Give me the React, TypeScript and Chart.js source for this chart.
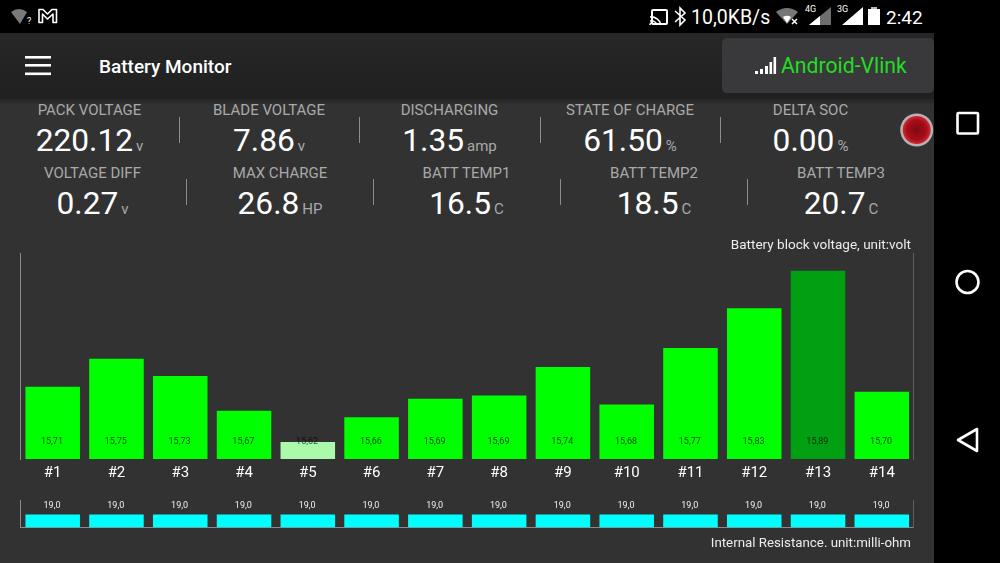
import React, { useEffect, useRef } from 'react';
import { Chart, registerables } from 'chart.js';

Chart.register(...registerables);
Chart.defaults.font.family = 'Roboto';

const categories = ['#1', '#2', '#3', '#4', '#5', '#6', '#7', '#8', '#9', '#10', '#11', '#12', '#13', '#14'];
// bar heights, the printed labels are rounded differently
const voltageValues = [15.707, 15.751, 15.724, 15.669, 15.62, 15.659, 15.688, 15.693, 15.738, 15.679, 15.768, 15.831, 15.89, 15.699];
const voltageLabels = ['15,71', '15,75', '15,73', '15,67', '15,62', '15,66', '15,69', '15,69', '15,74', '15,68', '15,77', '15,83', '15,89', '15,70'];
const resistanceValues = [19.0, 19.0, 19.0, 19.0, 19.0, 19.0, 19.0, 19.0, 19.0, 19.0, 19.0, 19.0, 19.0, 19.0];
const resistanceLabels = ['19,0', '19,0', '19,0', '19,0', '19,0', '19,0', '19,0', '19,0', '19,0', '19,0', '19,0', '19,0', '19,0', '19,0'];

const topRow = [
  { label: 'PACK VOLTAGE', value: '220.12', unit: 'v', x: 89.5 },
  { label: 'BLADE VOLTAGE', value: '7.86', unit: 'v', x: 269 },
  { label: 'DISCHARGING', value: '1.35', unit: 'amp', x: 449.5 },
  { label: 'STATE OF CHARGE', value: '61.50', unit: '%', x: 630 },
  { label: 'DELTA SOC', value: '0.00', unit: '%', x: 810.5 },
];
const bottomRow = [
  { label: 'VOLTAGE DIFF', value: '0.27', unit: 'v', x: 92.5 },
  { label: 'MAX CHARGE', value: '26.8', unit: 'HP', x: 280 },
  { label: 'BATT TEMP1', value: '16.5', unit: 'C', x: 466.5 },
  { label: 'BATT TEMP2', value: '18.5', unit: 'C', x: 654 },
  { label: 'BATT TEMP3', value: '20.7', unit: 'C', x: 841 },
];
const topDividers = [179.5, 359.5, 540, 720];
const bottomDividers = [186, 373, 560, 747.5];

// value labels and the right aligned caption of each panel
const panelText = {
  id: 'panelText',
  afterDatasetsDraw(chart: any, _args: any, opts: any) {
    const { ctx, chartArea } = chart;
    const bars = chart.getDatasetMeta(0).data;
    ctx.save();
    ctx.textAlign = 'center';
    ctx.textBaseline = 'middle';
    ctx.font = '9px Roboto';
    ctx.fillStyle = opts.valueColor;
    bars.forEach((bar: any, i: number) => {
      const y = opts.inside ? chartArea.bottom - 17.3 : bar.y - 9;
      ctx.fillText(opts.labels[i], bar.x - 0.7, y);
    });
    ctx.textAlign = 'right';
    ctx.font = `${opts.captionSize}px Roboto`;
    ctx.fillStyle = '#ececec';
    ctx.fillText(opts.caption, 911, opts.captionY);
    ctx.restore();
  },
};

const noWidth = (scale: any) => {
  scale.width = 0;
};

const sideAxis = (position: string, color: string, min: number, max: number) => ({
  position,
  min,
  max,
  grid: { display: false, drawTicks: false },
  ticks: { display: false },
  border: { display: true, color, width: 1 },
  afterFit: noWidth,
});

const VoltageChart: React.FC = () => {
  const ref = useRef<HTMLCanvasElement>(null);

  useEffect(() => {
    if (!ref.current) return;
    const chart = new Chart(ref.current, {
      type: 'bar',
      data: {
        labels: categories,
        datasets: [
          {
            data: voltageValues,
            backgroundColor: voltageValues.map((v) =>
              v === Math.max(...voltageValues) ? '#019f12' : v === Math.min(...voltageValues) ? '#abfaab' : '#00ff00'
            ),
            barPercentage: 0.855,
            categoryPercentage: 1,
          },
        ],
      },
      options: {
        animation: false,
        responsive: false,
        layout: { padding: { left: 20.8, right: 86.3, top: 253, bottom: 0 } },
        plugins: {
          legend: { display: false },
          tooltip: { enabled: false },
          panelText: { inside: true, labels: voltageLabels, valueColor: 'rgba(0,0,0,0.7)', caption: 'Battery block voltage, unit:volt', captionY: 245.5, captionSize: 13.55 },
        },
        scales: {
          x: {
            grid: { display: false, drawTicks: false },
            border: { display: false },
            ticks: { color: '#ffffff', font: { size: 15 }, padding: 5, maxRotation: 0, autoSkip: false },
            afterFit: (scale: any) => {
              scale.height = 31;
            },
          },
          y: sideAxis('left', '#8a8a8a', 15.593, 15.918),
          y1: sideAxis('right', '#5e5e5e', 15.593, 15.918),
        },
      },
      plugins: [panelText],
    } as any);
    return () => chart.destroy();
  }, []);

  return <canvas ref={ref} width={1000} height={490} style={{ position: 'absolute', left: 0, top: 0 }} />;
};

const ResistanceChart: React.FC = () => {
  const ref = useRef<HTMLCanvasElement>(null);

  useEffect(() => {
    if (!ref.current) return;
    const chart = new Chart(ref.current, {
      type: 'bar',
      data: {
        labels: categories,
        datasets: [
          {
            data: resistanceValues,
            backgroundColor: '#00ffff',
            barPercentage: 0.855,
            categoryPercentage: 1,
          },
        ],
      },
      options: {
        animation: false,
        responsive: false,
        layout: { padding: { left: 20.8, right: 86.3, top: 10, bottom: 35.5 } },
        plugins: {
          legend: { display: false },
          tooltip: { enabled: false },
          panelText: { inside: false, labels: resistanceLabels, valueColor: '#f0f0f0', caption: 'Internal Resistance. unit:milli-ohm', captionY: 54, captionSize: 13.3 },
        },
        scales: {
          x: {
            grid: { display: false, drawTicks: false },
            border: { display: true, color: '#8a8a8a' },
            ticks: { display: false },
            afterFit: (scale: any) => {
              scale.height = 0;
            },
          },
          y: sideAxis('left', '#8a8a8a', 0, 40),
          y1: sideAxis('right', '#5e5e5e', 0, 40),
        },
      },
      plugins: [panelText],
    } as any);
    return () => chart.destroy();
  }, []);

  return <canvas ref={ref} width={1000} height={73} style={{ position: 'absolute', left: 0, top: 490 }} />;
};

const Tile: React.FC<{ item: { label: string; value: string; unit: string; x: number }; y: number }> = ({ item, y }) => (
  <>
    <div style={{ position: 'absolute', left: item.x - 100, width: 200, top: y - 9.5, height: 20, lineHeight: '20px', textAlign: 'center', fontSize: 15, color: '#a9a9a9' }}>
      {item.label}
    </div>
    <div style={{ position: 'absolute', left: item.x - 100, width: 200, top: y + 12, height: 40, lineHeight: '40px', textAlign: 'center', fontSize: 31.7, color: '#fff', whiteSpace: 'nowrap' }}>
      {item.value}
      <span style={{ fontSize: 15, color: '#a9a9a9', marginLeft: 3 }}>{item.unit}</span>
    </div>
  </>
);

const Divider: React.FC<{ x: number; y: number }> = ({ x, y }) => (
  <div style={{ position: 'absolute', left: x - 0.5, top: y, width: 1, height: 26, background: '#8c8c8c' }} />
);

const StatusText: React.FC<{ x: number; y: number; size: number; children: React.ReactNode }> = ({ x, y, size, children }) => (
  <div style={{ position: 'absolute', left: x, top: y, fontSize: size, lineHeight: `${size + 2}px`, color: '#fff', whiteSpace: 'nowrap' }}>{children}</div>
);

const Icons: React.FC = () => (
  <svg width={1000} height={563} style={{ position: 'absolute', left: 0, top: 0 }}>
    {/* status bar, left */}
    <path d="M11 12 Q19 6 27 12 L20 24 Z" fill="#7a7a7a" />
    <path d="M39 9.5 H43 L47.5 14 L52 9.5 H56.5 V22.5 H53 V14 L47.5 19 L42.5 14 V22.5 H39 Z" fill="none" stroke="#fff" strokeWidth={1.6} strokeLinejoin="round" />
    {/* status bar, right */}
    <rect x={652} y={10} width={15} height={14} rx={1} fill="none" stroke="#fff" strokeWidth={2} />
    <path d="M650 25 a2 2 0 0 1 3 -2 M650 21 a6 6 0 0 1 7 4 M650 17 a10 10 0 0 1 11 8" fill="none" stroke="#fff" strokeWidth={1.6} />
    <path d="M675 11 L685 20 L680 25 V8 L685 13 L675 22" fill="none" stroke="#fff" strokeWidth={1.6} />
    <path d="M776 12 Q787 4 798 12 L787 24 Z" fill="#777" />
    <path d="M783 17 Q787 14.5 791 17 L787 23 Z" fill="#fff" />
    <path d="M792 19 L797 24 M797 19 L792 24" stroke="#fff" strokeWidth={1.5} />
    <path d="M809 25 L831 7 V25 Z" fill="#6e6e6e" />
    <path d="M809 25 L820 16 V25 Z" fill="#fff" />
    <path d="M842 25 L863 7 V25 Z" fill="#fff" />
    <rect x={868} y={9} width={12} height={16} fill="#fff" />
    <rect x={871} y={7} width={6} height={2} fill="#bbb" />
    {/* hamburger */}
    <rect x={25} y={56} width={26} height={2.6} fill="#fff" />
    <rect x={25} y={64} width={26} height={2.6} fill="#fff" />
    <rect x={25} y={72.5} width={26} height={2.6} fill="#fff" />
    {/* signal icon */}
    <rect x={755} y={71} width={3} height={3} fill="#fff" />
    <rect x={760} y={69} width={3} height={5} fill="#fff" />
    <rect x={765} y={66} width={3} height={8} fill="#fff" />
    <rect x={769.5} y={62} width={2.6} height={12} fill="#fff" />
    <rect x={773.5} y={57} width={2.6} height={17} fill="#fff" />
    {/* red status lamp */}
    <defs>
      <radialGradient id="lamp" cx="50%" cy="50%" r="50%">
        <stop offset="0%" stopColor="#7d0a12" />
        <stop offset="70%" stopColor="#a80c18" />
        <stop offset="100%" stopColor="#d02a34" />
      </radialGradient>
    </defs>
    <circle cx={916.7} cy={130} r={16.5} fill="#b9b2b2" />
    <circle cx={916.7} cy={130} r={14} fill="url(#lamp)" />
    {/* navigation bar */}
    <rect x={957.5} y={113} width={20.5} height={20.5} rx={1} fill="none" stroke="#fff" strokeWidth={2.6} />
    <circle cx={967.5} cy={282} r={11} fill="none" stroke="#fff" strokeWidth={2.6} />
    <path d="M977 429 V451 L958 440 Z" fill="none" stroke="#fff" strokeWidth={2.6} strokeLinejoin="round" />
  </svg>
);

const App: React.FC = () => {
  useEffect(() => {
    document.body.style.margin = '0';
  }, []);

  return (
    <div style={{ position: 'absolute', left: 0, top: 0, width: 1000, height: 563, overflow: 'hidden', background: '#000', fontFamily: 'Roboto' }}>
      <div style={{ position: 'absolute', left: 0, top: 33, width: 934, height: 530, background: '#323232' }} />
      <div style={{ position: 'absolute', left: 0, top: 33, width: 934, height: 66, background: 'linear-gradient(#272727, #202020)' }} />
      <div style={{ position: 'absolute', left: 0, top: 99, width: 934, height: 6, background: 'linear-gradient(#252525, #323232)' }} />
      <div style={{ position: 'absolute', left: 722, top: 38, width: 212, height: 55, borderRadius: 5, background: '#39393b' }} />
      <div style={{ position: 'absolute', left: 99, top: 55, fontSize: 19, lineHeight: '24px', fontWeight: 500, color: '#fff', whiteSpace: 'nowrap' }}>Battery Monitor</div>
      <div style={{ position: 'absolute', left: 781, top: 52, fontSize: 21.2, lineHeight: '28px', color: '#22dd22', whiteSpace: 'nowrap' }}>Android-Vlink</div>
      <StatusText x={27} y={16} size={9}>?</StatusText>
      <StatusText x={691} y={7} size={19.5}>10,0KB/s</StatusText>
      <StatusText x={805} y={4} size={9}>4G</StatusText>
      <StatusText x={837} y={4} size={9}>3G</StatusText>
      <StatusText x={886} y={7} size={19}>2:42</StatusText>
      {topRow.map((item) => (
        <Tile key={item.label} item={item} y={109} />
      ))}
      {bottomRow.map((item) => (
        <Tile key={item.label} item={item} y={172} />
      ))}
      {topDividers.map((x) => (
        <Divider key={x} x={x} y={117} />
      ))}
      {bottomDividers.map((x) => (
        <Divider key={x} x={x} y={179} />
      ))}
      <VoltageChart />
      <ResistanceChart />
      <Icons />
    </div>
  );
};

export default App;
